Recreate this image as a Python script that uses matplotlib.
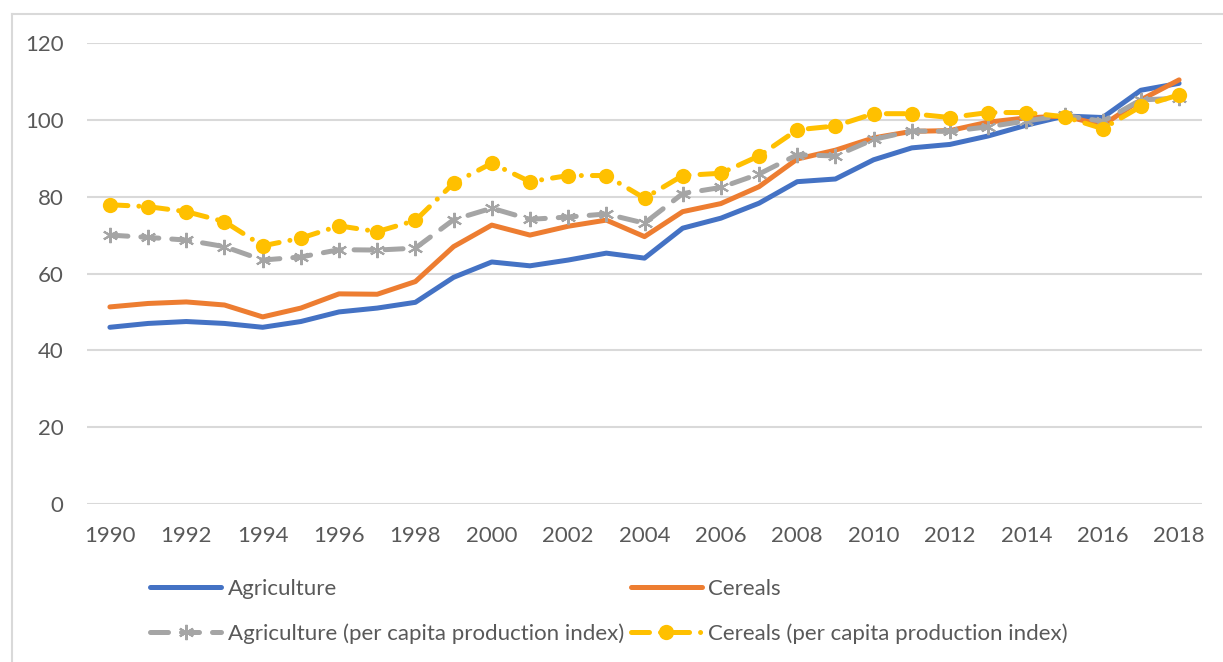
import matplotlib
matplotlib.use("Agg")
import matplotlib.pyplot as plt
from matplotlib.lines import Line2D

years = list(range(1990, 2019))

agriculture = [46.0, 47.0, 47.5, 47.0, 46.0, 47.5, 50.0, 51.0, 52.5, 59.0,
               63.0, 62.0, 63.5, 65.3, 64.0, 71.8, 74.4, 78.3, 83.9, 84.6,
               89.6, 92.7, 93.6, 95.8, 98.6, 101.0, 100.6, 107.7, 109.5]
cereals = [51.3, 52.2, 52.6, 51.8, 48.7, 51.0, 54.7, 54.6, 57.9, 67.0,
           72.6, 70.0, 72.3, 73.9, 69.6, 76.1, 78.2, 82.6, 89.8, 92.1,
           95.3, 97.0, 97.2, 99.4, 100.5, 101.0, 98.6, 105.2, 110.4]
agri_per_capita = [70.0, 69.4, 68.7, 67.0, 63.5, 64.3, 66.2, 66.1, 66.6, 74.0,
                   77.0, 74.1, 74.7, 75.5, 73.1, 80.8, 82.4, 85.9, 90.9, 90.6,
                   94.9, 97.1, 97.0, 98.2, 99.7, 101.2, 99.6, 105.2, 105.6]
cereals_per_capita = [77.9, 77.4, 76.1, 73.5, 67.2, 69.2, 72.4, 70.9, 73.8, 83.5,
                      88.7, 83.9, 85.5, 85.5, 79.6, 85.5, 86.1, 90.6, 97.4, 98.4,
                      101.6, 101.6, 100.6, 101.9, 101.9, 100.8, 97.7, 103.5, 106.5]

y_ticks = [0, 20, 40, 60, 80, 100, 120]
x_ticks = list(range(1990, 2019, 2))

BLUE = "#4472C4"
ORANGE = "#ED7D31"
GRAY = "#A5A5A5"
YELLOW = "#FFC000"
TEXT = "#595959"
GRID = "#D9D9D9"

plt.rcParams["font.family"] = ["Lato", "DejaVu Sans"]
FS = 16

W, H = 1223, 662
fig = plt.figure(figsize=(W / 100, H / 100), dpi=100)
ax = fig.add_axes([87 / W, 1 - 504 / H, (1202 - 87) / W, (504 - 43) / H])

lw = 3.6
h_agri, = ax.plot(years, agriculture, color=BLUE, lw=lw,
                  solid_joinstyle="round", solid_capstyle="round",
                  label="Agriculture", zorder=3)
h_cer, = ax.plot(years, cereals, color=ORANGE, lw=lw,
                 solid_joinstyle="round", solid_capstyle="round",
                 label="Cereals", zorder=3)
h_agri_pc, = ax.plot(years, agri_per_capita, color=GRAY, lw=lw,
                     dashes=(3.6, 2.6), dash_capstyle="round",
                     marker=(6, 2, 0), markersize=11, markeredgewidth=1.5,
                     markeredgecolor=GRAY,
                     label="Agriculture (per capita production index)",
                     zorder=4)
h_cer_pc, = ax.plot(years, cereals_per_capita, color=YELLOW, lw=lw,
                    dashes=(3.6, 2.2, 0.01, 2.2), dash_capstyle="round",
                    marker="o", markersize=11, markeredgewidth=0,
                    label="Cereals (per capita production index)", zorder=5)

ax.set_xlim(1989.4, 2018.6)
ax.set_ylim(0, 120)
ax.set_yticks(y_ticks)
ax.set_xticks(x_ticks)
ax.yaxis.grid(True, color=GRID, lw=1.5)
ax.set_axisbelow(True)
for s in ax.spines.values():
    s.set_visible(False)
ax.tick_params(axis="both", length=0, labelsize=FS, labelcolor=TEXT)
ax.tick_params(axis="y", pad=17)
ax.tick_params(axis="x", pad=16)

# legend rows: Agriculture / Cereals, then the two per-capita series
handles = [h_agri, h_agri_pc, h_cer, h_cer_pc]
leg = fig.legend(handles, [h.get_label() for h in handles], ncol=2,
                 loc="upper left", bbox_to_anchor=(150 / W, 1 - 579 / H),
                 frameon=False, fontsize=FS, handlelength=3.2,
                 handletextpad=0.3, columnspacing=0.3, labelspacing=1.1,
                 borderaxespad=0, borderpad=0)
for t in leg.get_texts():
    t.set_color(TEXT)

# frame edges along the top and left of the figure
fig.add_artist(Line2D([12 / W, 1], [1 - 14 / H, 1 - 14 / H], color="#D9D9D9",
                      lw=1.5, transform=fig.transFigure))
fig.add_artist(Line2D([12 / W, 12 / W], [0, 1 - 14 / H], color="#D9D9D9",
                      lw=1.5, transform=fig.transFigure))

fig.savefig("out.png", dpi=100)
